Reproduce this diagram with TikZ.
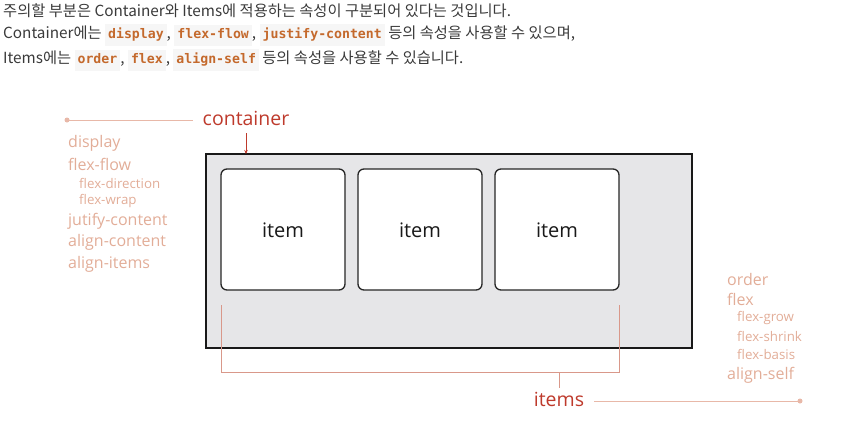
\documentclass[tikz,border=0pt]{standalone}
\usepackage{fontspec}
\usetikzlibrary{arrows.meta}
\setmainfont{Open Sans}
\newfontfamily\kr{Noto Sans CJK KR}
\newfontfamily\cd{DejaVu Sans Mono}
\newfontfamily\lab{Open Sans}
\definecolor{txt}{HTML}{3A3A3A}
\definecolor{codefg}{HTML}{C4692C}
\definecolor{codebg}{HTML}{F6F6F6}
\definecolor{redlab}{HTML}{BE3A2C}
\definecolor{prop}{HTML}{E2AD98}
\definecolor{lineclr}{HTML}{E8B8A8}
\definecolor{brk}{HTML}{D9988A}
\definecolor{boxfill}{HTML}{E6E6E8}
\newcommand{\cw}[1]{{\setlength\fboxsep{3pt}\colorbox{codebg}{\cd\bfseries\fontsize{13.2}{15}\selectfont\color{codefg}\strut #1}}}
\tikzset{
  hdr/.style={anchor=west, inner sep=0pt, font=\kr\fontsize{15.3}{17}\selectfont, text=txt},
  itembox/.style={draw=black!85, line width=1.3pt, fill=white, rounded corners=6pt},
  itemtxt/.style={font=\lab\fontsize{20}{23}\selectfont, text=black!90},
  biglab/.style={font=\lab\fontsize{19.5}{23}\selectfont, text=redlab, inner sep=0pt},
  propbig/.style={anchor=west, inner sep=0pt, font=\lab\fontsize{16}{18}\selectfont, text=prop},
  propsm/.style={anchor=west, inner sep=0pt, font=\lab\fontsize{13.3}{15}\selectfont, text=prop},
  guide/.style={draw=lineclr, line width=0.9pt},
  bracket/.style={draw=brk, line width=0.9pt},
  dotend/.style={circle, fill=lineclr, inner sep=0pt, minimum size=5pt}
}
\begin{document}
\begin{tikzpicture}[x=1pt,y=-1pt]
\useasboundingbox (0,0) rectangle (857,431);
% header text
\node[hdr] (h1) at (3,11) {주의할 부분은 Container와 Items에 적용하는 속성이 구분되어 있다는 것입니다.};
\node[hdr] (h2) at (3,35) {Container에는 \cw{display}, \cw{flex-flow}, \cw{justify-content} 등의 속성을 사용할 수 있으며,};
\node[hdr] (h3) at (3,60) {Items에는 \cw{order}, \cw{flex}, \cw{align-self} 등의 속성을 사용할 수 있습니다.};
% container box
\draw[draw=black!90, line width=2.6pt, fill=boxfill] (206,154) rectangle (692,348);
\coordinate (ctop) at (246,154);
% items
\draw[itembox] (221,169) rectangle (345,290);
\draw[itembox] (358,169) rectangle (482,290);
\draw[itembox] (495,169) rectangle (619,290);
\node[itemtxt] (i1) at (283,230) {item};
\node[itemtxt] (i2) at (420,230) {item};
\node[itemtxt] (i3) at (557,230) {item};
% container label
\node[biglab] (clab) at (246,118) {container};
\node[dotend] (cdot) at (67,120) {};
\draw[guide] (cdot.center) -- (193,120);
\draw[draw=redlab, line width=0.8pt, -{Stealth[length=4pt,width=3.5pt]}] (246,133) -- (ctop);
% left properties
\node[propbig] (p1) at (68,143) {display};
\node[propbig] (p2) at (68,164) {flex-flow};
\node[propsm]  (p3) at (79,183) {flex-direction};
\node[propsm]  (p4) at (79,201) {flex-wrap};
\node[propbig] (p5) at (68,221) {jutify-content};
\node[propbig] (p6) at (68,242) {align-content};
\node[propbig] (p7) at (68,264) {align-items};
% right properties
\node[propbig] (q1) at (727,279) {order};
\node[propbig] (q2) at (727,299) {flex};
\node[propsm]  (q3) at (737,318) {flex-grow};
\node[propsm]  (q4) at (737,336) {flex-shrink};
\node[propsm]  (q5) at (737,354) {flex-basis};
\node[propbig] (q6) at (727,375) {align-self};
% items bracket
\coordinate (bl) at (221,305);
\coordinate (br) at (619,305);
\coordinate (bm) at (559,372);
\draw[bracket] (bl) -- (221,372) -- (619,372) -- (br);
\node[biglab] (ilab) at (559,399) {items};
\draw[bracket] (bm) -- (559,388);
\node[dotend] (idot) at (800,401) {};
\draw[guide] (594,401) -- (idot.center);
\end{tikzpicture}
\end{document}
